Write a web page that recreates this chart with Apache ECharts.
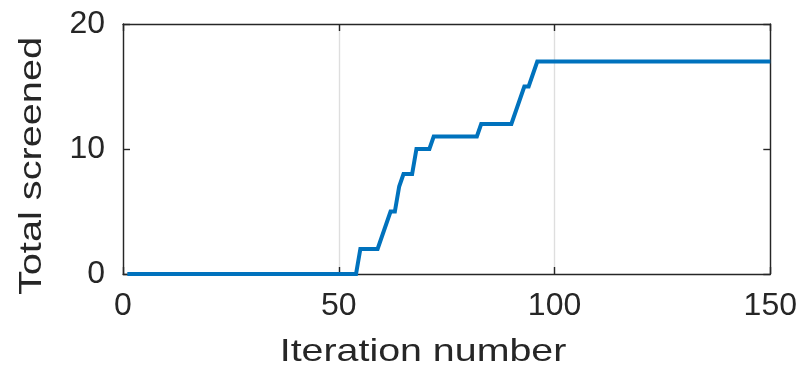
<!DOCTYPE html>
<html>
<head>
<meta charset="utf-8">
<script src="https://cdn.jsdelivr.net/npm/echarts@6/dist/echarts.min.js"></script>
<style>html,body{margin:0;padding:0;background:#fff;}#c{width:800px;height:370px;}</style>
</head>
<body>
<div id="c"></div>
<script>
const iterations = [1, 54, 55, 59, 62, 63, 64, 65, 67, 68, 71, 72, 82, 83, 90, 93, 94, 96, 150];
const screened   = [0, 0, 2, 2, 5, 5, 7, 8, 8, 10, 10, 11, 11, 12, 12, 15, 15, 17, 17];
const xTicks = [0, 50, 100, 150];
const yTicks = [0, 10, 20];
const xTitle = 'Iteration number';
const yTitle = 'Total screened';

const FONT = '"Liberation Sans", Arial, Helvetica, sans-serif';
const AX = '#262626';
const chart = echarts.init(document.getElementById('c'), null, {renderer: 'canvas'});
const pts = iterations.map((x, i) => [x, screened[i]]);

const baseX = {
  type: 'value', min: xTicks[0], max: xTicks[xTicks.length - 1], interval: xTicks[1] - xTicks[0],
  axisLine: {show: true, onZero: false, lineStyle: {color: AX, width: 1.4}},
  axisTick: {show: true, inside: true, length: 7, lineStyle: {color: AX, width: 1.4}},
};
const baseY = {
  type: 'value', min: yTicks[0], max: yTicks[yTicks.length - 1], interval: yTicks[1] - yTicks[0],
  axisLine: {show: true, onZero: false, lineStyle: {color: AX, width: 1.4}},
  axisTick: {show: true, inside: true, length: 7, lineStyle: {color: AX, width: 1.4}},
};

chart.setOption({
  animation: false,
  backgroundColor: '#fff',
  grid: {left: 123, right: 29, top: 24, bottom: 96, containLabel: false},
  xAxis: [
    Object.assign({}, baseX, {
      position: 'bottom',
      axisLabel: {show: true, fontSize: 32, fontFamily: FONT, color: AX, margin: 16},
      splitLine: {show: true, lineStyle: {color: '#dedede', width: 1.4}}
    }),
    Object.assign({}, baseX, {
      position: 'top',
      axisLabel: {show: false},
      splitLine: {show: false}
    })
  ],
  yAxis: [
    Object.assign({}, baseY, {
      position: 'left',
      axisLabel: {show: true, fontSize: 32, fontFamily: FONT, color: AX, margin: 18},
      splitLine: {show: false}
    }),
    Object.assign({}, baseY, {
      position: 'right',
      axisLabel: {show: false},
      splitLine: {show: false}
    })
  ],
  graphic: [
    {
      type: 'text', x: 423, y: 352, scaleX: 1.23,
      style: {text: xTitle, fontSize: 32, fontFamily: FONT, fill: AX, textAlign: 'center', textVerticalAlign: 'middle'}
    },
    {
      type: 'text', x: 32, y: 166, rotation: Math.PI / 2, scaleX: 1.24,
      style: {text: yTitle, fontSize: 32, fontFamily: FONT, fill: AX, textAlign: 'center', textVerticalAlign: 'middle'}
    }
  ],
  series: [{
    type: 'line', xAxisIndex: 0, yAxisIndex: 0,
    data: pts, symbol: 'none', clip: false,
    lineStyle: {color: '#0072BD', width: 4, join: 'miter'},
    z: 5
  }]
});
</script>
</body>
</html>
